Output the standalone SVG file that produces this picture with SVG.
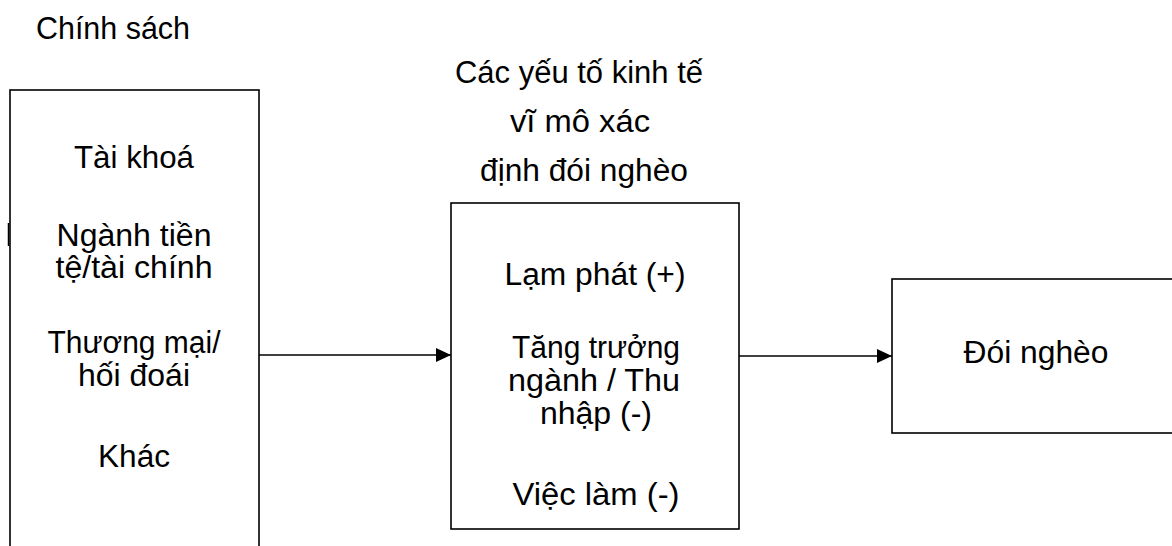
<svg xmlns="http://www.w3.org/2000/svg" width="1172" height="546" viewBox="0 0 1172 546">
<style>
  .box { fill: #ffffff; stroke: #000000; stroke-width: 1.6; }
  .t { font-family: "Liberation Sans", Arial, sans-serif; font-size: 31px; fill: #000000; text-anchor: middle; }
  .tl { font-family: "Liberation Sans", Arial, sans-serif; font-size: 31px; fill: #000000; }
  .conn { stroke: #000000; stroke-width: 1.6; fill: none; }
</style>
<defs>
  <marker id="arrow" markerUnits="userSpaceOnUse" markerWidth="16" markerHeight="16" refX="15" refY="8" orient="auto">
    <path d="M0,1 L15,8 L0,15 z" fill="#000000"/>
  </marker>
</defs>
<rect width="1172" height="546" fill="#ffffff"/>

<g id="label-chinh-sach">
  <text class="tl" x="36" y="39" textLength="154" lengthAdjust="spacingAndGlyphs">Chính sách</text>
</g>

<g id="label-yeu-to">
  <text class="t" x="579" y="83" textLength="248" lengthAdjust="spacingAndGlyphs">Các yếu tố kinh tế</text>
  <text class="t" x="580" y="132" textLength="140" lengthAdjust="spacingAndGlyphs">vĩ mô xác</text>
  <text class="t" x="584" y="181" textLength="208" lengthAdjust="spacingAndGlyphs">định đói nghèo</text>
</g>

<g id="node-chinh-sach">
  <rect class="box" x="10" y="90" width="249" height="470"/>
  <line x1="8.5" y1="223" x2="8.5" y2="246" stroke="#000000" stroke-width="1.5"/>
  <text class="t" x="134" y="168" textLength="120" lengthAdjust="spacingAndGlyphs">Tài khoá</text>
  <text class="t" x="134" y="246" textLength="155" lengthAdjust="spacingAndGlyphs">Ngành tiền</text>
  <text class="t" x="134" y="278" textLength="157" lengthAdjust="spacingAndGlyphs">tệ/tài chính</text>
  <text class="t" x="134" y="353" textLength="173" lengthAdjust="spacingAndGlyphs">Thương mại/</text>
  <text class="t" x="134" y="386" textLength="112" lengthAdjust="spacingAndGlyphs">hối đoái</text>
  <text class="t" x="134" y="467" textLength="72" lengthAdjust="spacingAndGlyphs">Khác</text>
</g>

<g id="node-yeu-to">
  <rect class="box" x="451" y="203" width="288" height="326"/>
  <text class="t" x="595" y="285" textLength="181" lengthAdjust="spacingAndGlyphs">Lạm phát (+)</text>
  <text class="t" x="596" y="358" textLength="168" lengthAdjust="spacingAndGlyphs">Tăng trưởng</text>
  <text class="t" x="594" y="391" textLength="172" lengthAdjust="spacingAndGlyphs">ngành / Thu</text>
  <text class="t" x="596" y="424" textLength="112" lengthAdjust="spacingAndGlyphs">nhập (-)</text>
  <text class="t" x="596" y="505" textLength="167" lengthAdjust="spacingAndGlyphs">Việc làm (-)</text>
</g>

<g id="node-doi-ngheo">
  <rect class="box" x="892" y="279" width="300" height="154"/>
  <text class="t" x="1036" y="363" textLength="145" lengthAdjust="spacingAndGlyphs">Đói nghèo</text>
</g>

<g id="connectors">
  <line class="conn" x1="259" y1="355" x2="451" y2="355" marker-end="url(#arrow)"/>
  <line class="conn" x1="739" y1="356" x2="892" y2="356" marker-end="url(#arrow)"/>
</g>
</svg>
